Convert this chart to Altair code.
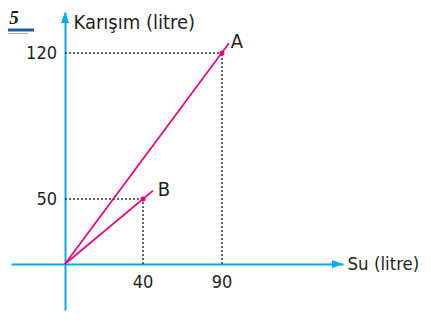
import altair as alt
import pandas as pd

# ---- data ----
names = ["A", "B"]
su = [90, 40]                 # Su (litre)
karisim = [120, 50]           # Karışım (litre)
line_end_su = [94.4, 46.3]    # the drawn lines run slightly past A and B
line_end_karisim = [124.8, 54.0]
x_ticks = [40, 90]
y_ticks = [50, 120]
x_axis_limits = [-28, 167]
y_axis_limits = [-40, 140]
problem_number = ["5"]

W, H = 415, 304
FONT = "DejaVu Sans Condensed"
SERIF = "Liberation Serif"
CYAN = "#00AEEF"
MAGENTA = "#E6007E"
INK = "#231F20"

xs = alt.Scale(domain=[x_axis_limits[0], 0, 40, 90, x_axis_limits[1]],
               range=[3, 57, 135, 214, 335], nice=False, zero=False)
ys = alt.Scale(domain=[y_axis_limits[0], 0, 50, 120, y_axis_limits[1]],
               range=[302, 256, 191, 45, 4], nice=False, zero=False)

xa = alt.Axis(values=x_ticks, title="Su (litre)", grid=False, ticks=False, labels=False,
              domainColor=CYAN, domainWidth=2, offset=-(H - 256),
              titleX=339, titleY=-1, titleAlign="left", titleBaseline="middle",
              titleAngle=0, titleFontSize=18.5, titleFont=FONT, titleFontWeight="normal",
              titleColor=INK)
ya = alt.Axis(values=y_ticks, title="Karışım (litre)", grid=False, ticks=False, labels=False,
              domainColor=CYAN, domainWidth=2, offset=-57,
              titleX=8, titleY=14, titleAlign="left", titleBaseline="middle",
              titleAngle=0, titleFontSize=20, titleFont=FONT, titleFontWeight="normal",
              titleColor=INK)


def X(f):
    return alt.X(f, type="quantitative", scale=xs, axis=xa)


def Y(f):
    return alt.Y(f, type="quantitative", scale=ys, axis=ya)


df = pd.DataFrame({"name": names, "su": su, "karisim": karisim,
                   "end_su": line_end_su, "end_k": line_end_karisim,
                   "zero": [0] * len(names)})
xt = pd.DataFrame({"su": x_ticks, "karisim": [0] * len(x_ticks), "lab": [str(v) for v in x_ticks]})
yt = pd.DataFrame({"su": [0] * len(y_ticks), "karisim": y_ticks, "lab": [str(v) for v in y_ticks]})

dotted_h = alt.Chart(df).mark_rule(strokeDash=[2, 2], color="#333333", strokeWidth=1.5).encode(
    x=X("zero"), x2="su", y=Y("karisim"))
dotted_v = alt.Chart(df).mark_rule(strokeDash=[2, 2], color="#333333", strokeWidth=1.5).encode(
    x=X("su"), y=Y("zero"), y2="karisim")
lines = alt.Chart(df).mark_rule(color=MAGENTA, strokeWidth=1.7).encode(
    x=X("zero"), y=Y("zero"), x2="end_su", y2="end_k")
points = alt.Chart(df).mark_circle(size=25, color=MAGENTA, opacity=1).encode(
    x=X("su"), y=Y("karisim"))
label_a = alt.Chart(df).transform_filter(alt.datum.name == "A").mark_text(
    dx=15, dy=-11, fontSize=20, font=FONT, color=INK, baseline="middle", align="center").encode(
    x=X("su"), y=Y("karisim"), text="name:N")
label_b = alt.Chart(df).transform_filter(alt.datum.name == "B").mark_text(
    dx=21, dy=-9, fontSize=20, font=FONT, color=INK, baseline="middle", align="center").encode(
    x=X("su"), y=Y("karisim"), text="name:N")
xlabels = alt.Chart(xt).mark_text(
    dy=19, fontSize=18, font=FONT, color=INK, baseline="middle", align="center").encode(
    x=X("su"), y=Y("karisim"), text="lab:N")
ylabels = alt.Chart(yt).mark_text(
    dx=-8, dy=1, fontSize=18, font=FONT, color=INK, baseline="middle", align="right").encode(
    x=X("su"), y=Y("karisim"), text="lab:N")

arrow_x = alt.Chart(pd.DataFrame({"su": [x_axis_limits[1]], "karisim": [0]})).mark_point(
    shape="M0,0L-2,-0.75L-2,0.75Z", filled=True, size=121, color=CYAN, opacity=1, strokeWidth=0).encode(
    x=X("su"), y=Y("karisim"))
arrow_y = alt.Chart(pd.DataFrame({"su": [0], "karisim": [y_axis_limits[1]]})).mark_point(
    shape="M0,0L-0.75,2L0.75,2Z", filled=True, size=121, color=CYAN, opacity=1, strokeWidth=0).encode(
    x=X("su"), y=Y("karisim"))

number = alt.Chart(pd.DataFrame({"t": problem_number})).mark_text(
    font=SERIF, fontSize=19, fontWeight="bold", fontStyle="italic",
    color=INK, align="center", baseline="top").encode(
    text="t:N", x=alt.value(6), y=alt.value(1))
underline1 = alt.Chart(pd.DataFrame({"t": problem_number})).mark_rule(
    color="#1C5AA6", strokeWidth=3).encode(x=alt.value(0), x2=alt.value(26), y=alt.value(22))
underline2 = alt.Chart(pd.DataFrame({"t": problem_number})).mark_rule(
    color="#8AB4E0", strokeWidth=1).encode(x=alt.value(0), x2=alt.value(20), y=alt.value(25.5))

chart = alt.layer(
    dotted_h, dotted_v, lines, points, label_a, label_b, xlabels, ylabels,
    arrow_x, arrow_y, number, underline1, underline2
).properties(
    width=W, height=H, padding=0, background="white",
    autosize=alt.AutoSizeParams(type="none")
).configure_view(stroke=None)

chart.save("out.html", embed_options={"renderer": "svg", "actions": False})
